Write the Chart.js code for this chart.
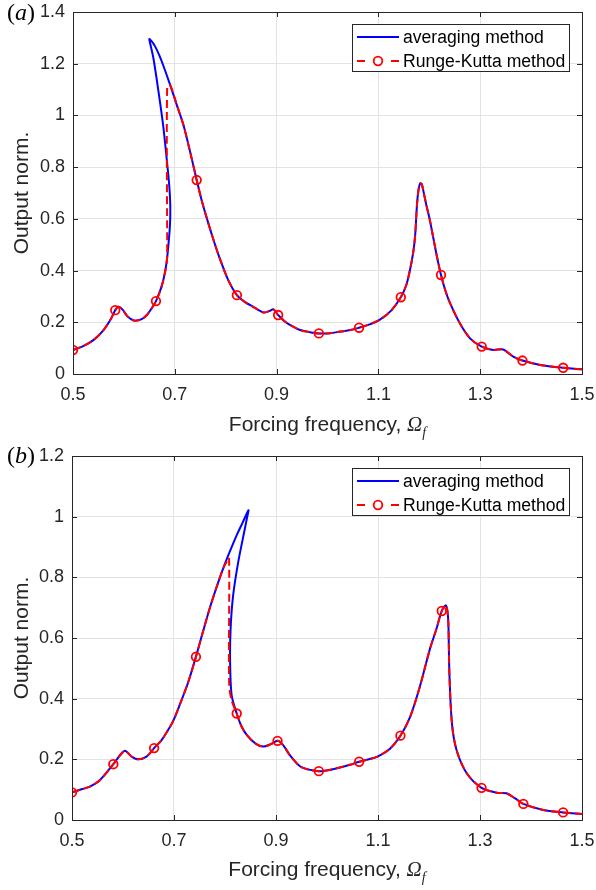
<!DOCTYPE html>
<html>
<head>
<meta charset="utf-8">
<title>Output norm vs forcing frequency</title>
<script src="https://cdn.jsdelivr.net/npm/chart.js@4.4.0/dist/chart.umd.min.js"></script>
<style>
    body { margin: 0; background: #ffffff; }
    .panel { position: relative; width: 596px; height: 445px; overflow: hidden; }
    .panel canvas { position: absolute; left: 0; top: 0; }
    .tag { position: absolute; left: 7px; font: 24px 'Liberation Serif', serif; line-height: 24px; color: #000; }
    .xlab { position: absolute; top: 413px; text-align: center; color: #262626;
            font: 21px 'Liberation Sans', Arial, sans-serif; line-height: 21px; white-space: nowrap; }
    .xlab i { font-family: 'Liberation Serif', serif; }
    .xlab sub { font-size: 14px; vertical-align: -6px; line-height: 0; }
</style>
</head>
<body>

<div class="panel">
    <canvas id="chartA" width="596" height="445"></canvas>
    <div class="tag" style="top:0px">(<i>a</i>)</div>
    <div class="xlab" style="left:73px;width:509px">Forcing frequency, <i>Ω</i><sub><i>f</i></sub></div>
</div>
<div class="panel">
    <canvas id="chartB" width="596" height="445"></canvas>
    <div class="tag" style="top:-2px">(<i>b</i>)</div>
    <div class="xlab" style="left:72px;width:510px">Forcing frequency, <i>Ω</i><sub><i>f</i></sub></div>
</div>

<script>
// Frequency response: averaging method vs Runge-Kutta, panels (a) and (b)

const seriesNames = ['averaging method', 'Runge-Kutta method'];
const xTicks = [0.5, 0.7, 0.9, 1.1, 1.3, 1.5];
const yTicksA = [0, 0.2, 0.4, 0.6, 0.8, 1, 1.2, 1.4];
const yTicksB = [0, 0.2, 0.4, 0.6, 0.8, 1, 1.2];

// ---- panel (a) ----
const xAvgA = [0.500, 0.520, 0.540, 0.560, 0.575, 0.583, 0.589, 0.597, 0.605, 0.614, 0.622, 0.635, 0.645, 0.655, 0.663,
    0.674, 0.681, 0.685, 0.688, 0.690, 0.691, 0.691, 0.689, 0.684, 0.677, 0.668, 0.658, 0.652, 0.650, 0.654, 0.661,
    0.669, 0.677, 0.691, 0.704, 0.717, 0.730, 0.743, 0.753, 0.763, 0.775, 0.786, 0.805, 0.822, 0.838, 0.854, 0.874,
    0.885, 0.894, 0.903, 0.915, 0.926, 0.946, 0.965, 0.983, 1.005, 1.025, 1.045, 1.062, 1.083, 1.103, 1.125, 1.144,
    1.155, 1.162, 1.168, 1.172, 1.176, 1.179, 1.182, 1.185, 1.188, 1.194, 1.201, 1.208, 1.215, 1.223, 1.232, 1.241,
    1.260, 1.280, 1.303, 1.326, 1.345, 1.365, 1.383, 1.418, 1.463, 1.500];
const yAvgA = [0.093, 0.108, 0.131, 0.170, 0.215, 0.247, 0.260, 0.250, 0.228, 0.212, 0.206, 0.212, 0.228, 0.255, 0.282,
    0.338, 0.396, 0.450, 0.512, 0.560, 0.602, 0.660, 0.731, 0.834, 0.963, 1.092, 1.221, 1.275, 1.295, 1.288, 1.268,
    1.235, 1.195, 1.117, 1.040, 0.963, 0.860, 0.750, 0.670, 0.602, 0.525, 0.460, 0.363, 0.305, 0.278, 0.260, 0.238,
    0.243, 0.250, 0.228, 0.205, 0.190, 0.170, 0.162, 0.157, 0.158, 0.164, 0.170, 0.179, 0.192, 0.210, 0.245, 0.297,
    0.345, 0.402, 0.465, 0.531, 0.660, 0.715, 0.737, 0.735, 0.711, 0.655, 0.596, 0.525, 0.454, 0.383, 0.320, 0.273,
    0.196, 0.138, 0.106, 0.093, 0.095, 0.067, 0.052, 0.035, 0.024, 0.018];

const xRkA = [0.500, 0.520, 0.540, 0.560, 0.575, 0.583, 0.589, 0.597, 0.605, 0.614, 0.622, 0.635, 0.645, 0.655, 0.663,
    0.674, 0.681, 0.684, 0.685, 0.685, 0.691, 0.704, 0.717, 0.730, 0.743, 0.753, 0.763, 0.775, 0.786, 0.805, 0.822,
    0.838, 0.854, 0.874, 0.885, 0.894, 0.903, 0.915, 0.926, 0.946, 0.965, 0.983, 1.005, 1.025, 1.045, 1.062, 1.083,
    1.103, 1.125, 1.144, 1.155, 1.162, 1.168, 1.172, 1.176, 1.179, 1.182, 1.185, 1.188, 1.194, 1.201, 1.208, 1.215,
    1.223, 1.232, 1.241, 1.260, 1.280, 1.303, 1.326, 1.345, 1.365, 1.383, 1.418, 1.463, 1.500];
const yRkA = [0.093, 0.108, 0.131, 0.170, 0.215, 0.247, 0.260, 0.250, 0.228, 0.212, 0.206, 0.212, 0.228, 0.255, 0.282,
    0.338, 0.396, 0.430, 0.460, 1.111, 1.117, 1.040, 0.963, 0.860, 0.750, 0.670, 0.602, 0.525, 0.460, 0.363, 0.305,
    0.278, 0.260, 0.238, 0.243, 0.250, 0.228, 0.205, 0.190, 0.170, 0.162, 0.157, 0.158, 0.164, 0.170, 0.179, 0.192,
    0.210, 0.245, 0.297, 0.345, 0.402, 0.465, 0.531, 0.660, 0.715, 0.737, 0.735, 0.711, 0.655, 0.596, 0.525, 0.454,
    0.383, 0.320, 0.273, 0.196, 0.138, 0.106, 0.093, 0.095, 0.067, 0.052, 0.035, 0.024, 0.018];

const xMarkA = [0.500, 0.583, 0.663, 0.743, 0.822, 0.903, 0.983, 1.062, 1.144, 1.223, 1.303, 1.383, 1.463];
const yMarkA = [0.093, 0.247, 0.282, 0.750, 0.305, 0.228, 0.157, 0.179, 0.297, 0.383, 0.106, 0.052, 0.024];

// ---- panel (b) ----
const xAvgB = [0.500, 0.520, 0.535, 0.555, 0.581, 0.595, 0.604, 0.617, 0.630, 0.646, 0.661, 0.675, 0.686, 0.698,
    0.712, 0.728, 0.743, 0.757, 0.771, 0.784, 0.797, 0.810, 0.823, 0.835, 0.846, 0.843, 0.839, 0.826, 0.816, 0.811,
    0.810, 0.813, 0.823, 0.832, 0.843, 0.860, 0.875, 0.890, 0.903, 0.914, 0.927, 0.947, 0.965, 0.984, 1.005, 1.025,
    1.045, 1.063, 1.082, 1.099, 1.124, 1.144, 1.163, 1.182, 1.202, 1.215, 1.225, 1.233, 1.236, 1.238, 1.240, 1.245,
    1.254, 1.274, 1.303, 1.333, 1.352, 1.369, 1.385, 1.424, 1.463, 1.500];
const yAvgB = [0.091, 0.102, 0.110, 0.132, 0.184, 0.215, 0.228, 0.209, 0.200, 0.209, 0.237, 0.262, 0.290, 0.325,
    0.383, 0.455, 0.538, 0.622, 0.703, 0.770, 0.832, 0.887, 0.939, 0.982, 1.021, 0.995, 0.961, 0.851, 0.741, 0.631,
    0.521, 0.412, 0.351, 0.310, 0.280, 0.252, 0.242, 0.250, 0.261, 0.247, 0.214, 0.177, 0.166, 0.161, 0.165, 0.173,
    0.182, 0.192, 0.200, 0.209, 0.236, 0.278, 0.340, 0.439, 0.565, 0.632, 0.689, 0.708, 0.690, 0.648, 0.483, 0.318,
    0.231, 0.154, 0.106, 0.090, 0.088, 0.071, 0.053, 0.033, 0.025, 0.020];

const xRkB = [0.500, 0.520, 0.535, 0.555, 0.581, 0.595, 0.604, 0.617, 0.630, 0.646, 0.661, 0.675, 0.686, 0.698,
    0.712, 0.728, 0.743, 0.757, 0.771, 0.784, 0.797, 0.804, 0.808, 0.808, 0.812, 0.823, 0.832, 0.843, 0.860, 0.875,
    0.890, 0.903, 0.914, 0.927, 0.947, 0.965, 0.984, 1.005, 1.025, 1.045, 1.063, 1.082, 1.099, 1.124, 1.144, 1.163,
    1.182, 1.202, 1.215, 1.225, 1.233, 1.236, 1.238, 1.240, 1.245, 1.254, 1.274, 1.303, 1.333, 1.352, 1.369, 1.385,
    1.424, 1.463, 1.500];
const yRkB = [0.091, 0.102, 0.110, 0.132, 0.184, 0.215, 0.228, 0.209, 0.200, 0.209, 0.237, 0.262, 0.290, 0.325,
    0.383, 0.455, 0.538, 0.622, 0.703, 0.770, 0.832, 0.853, 0.864, 0.460, 0.400, 0.351, 0.310, 0.280, 0.252, 0.242,
    0.250, 0.261, 0.247, 0.214, 0.177, 0.166, 0.161, 0.165, 0.173, 0.182, 0.192, 0.200, 0.209, 0.236, 0.278, 0.340,
    0.439, 0.565, 0.632, 0.689, 0.708, 0.690, 0.648, 0.483, 0.318, 0.231, 0.154, 0.106, 0.090, 0.088, 0.071, 0.053,
    0.033, 0.025, 0.020];

const xMarkB = [0.500, 0.581, 0.661, 0.743, 0.823, 0.903, 0.984, 1.063, 1.144, 1.225, 1.303, 1.385, 1.463];
const yMarkB = [0.091, 0.184, 0.237, 0.538, 0.351, 0.261, 0.161, 0.192, 0.278, 0.689, 0.106, 0.053, 0.025];

const FONT = "'Liberation Sans', Arial, Helvetica, sans-serif";
const AXIS_COLOR = '#262626';

function toPoints(xs, ys) {
    return xs.map((x, i) => ({ x: x, y: ys[i] }));
}

function fmtTick(v) {
    return String(Math.round(v * 10) / 10);
}

/**
 * MATLAB style box with inward ticks on all four sides
 */
const boxPlugin = {
    id: 'boxPlugin',
    afterDatasetsDraw(chart) {
        const { ctx, chartArea: a } = chart;
        const sx = chart.scales.x, sy = chart.scales.y;
        const len = 5;
        ctx.save();
        ctx.strokeStyle = AXIS_COLOR;
        ctx.lineWidth = 1;
        ctx.strokeRect(a.left + 0.5, a.top + 0.5, a.right - a.left, a.bottom - a.top);
        ctx.beginPath();
        sx.ticks.forEach(t => {
            const px = Math.round(sx.getPixelForValue(t.value)) + 0.5;
            ctx.moveTo(px, a.bottom); ctx.lineTo(px, a.bottom - len);
            ctx.moveTo(px, a.top); ctx.lineTo(px, a.top + len);
        });
        sy.ticks.forEach(t => {
            const py = Math.round(sy.getPixelForValue(t.value)) + 0.5;
            ctx.moveTo(a.left, py); ctx.lineTo(a.left + len, py);
            ctx.moveTo(a.right, py); ctx.lineTo(a.right - len, py);
        });
        ctx.stroke();
        ctx.restore();
    }
};

/**
 * Legend box in the top right corner (line + marker samples)
 */
const legendPlugin = {
    id: 'matlabLegend',
    afterDraw(chart) {
        const { ctx, chartArea: a } = chart;
        const x1 = a.right - 13, x0 = x1 - 217;
        const y0 = a.top + 12, h = 47;
        const rows = [y0 + 13, y0 + 37];
        ctx.save();
        ctx.fillStyle = '#ffffff';
        ctx.fillRect(x0, y0, x1 - x0, h);
        ctx.strokeStyle = AXIS_COLOR;
        ctx.lineWidth = 1;
        ctx.strokeRect(x0 + 0.5, y0 + 0.5, x1 - x0, h);

        // averaging method sample
        ctx.strokeStyle = '#0000ff';
        ctx.lineWidth = 2;
        ctx.beginPath();
        ctx.moveTo(x0 + 5, rows[0]); ctx.lineTo(x0 + 47, rows[0]);
        ctx.stroke();

        // Runge-Kutta sample: dash, circle, dash
        ctx.strokeStyle = '#ff0000';
        ctx.beginPath();
        ctx.moveTo(x0 + 5, rows[1]); ctx.lineTo(x0 + 13, rows[1]);
        ctx.moveTo(x0 + 39, rows[1]); ctx.lineTo(x0 + 47, rows[1]);
        ctx.stroke();
        ctx.lineWidth = 1.8;
        ctx.beginPath();
        ctx.arc(x0 + 26, rows[1], 4.3, 0, Math.PI * 2);
        ctx.stroke();

        ctx.fillStyle = '#000000';
        ctx.font = '17.6px ' + FONT;
        ctx.textBaseline = 'middle';
        ctx.textAlign = 'left';
        ctx.fillText(seriesNames[0], x0 + 51, rows[0] + 1);
        ctx.fillText(seriesNames[1], x0 + 51, rows[1] + 1);
        ctx.restore();
    }
};

/**
 * Build one panel
 */
function makePanel(canvasId, series, yTicks, frame) {
    const ctx = document.getElementById(canvasId);
    if (!ctx) return null;

    const data = {
        datasets: [{
            label: seriesNames[0],
            data: toPoints(series.xAvg, series.yAvg),
            showLine: true,
            borderColor: '#0000ff',
            borderWidth: 2,
            pointRadius: 0,
            tension: 0.3,
            order: 3
        }, {
            label: seriesNames[1],
            data: toPoints(series.xRk, series.yRk),
            showLine: true,
            borderColor: '#ff0000',
            borderWidth: 2,
            borderDash: [8, 4],
            pointRadius: 0,
            tension: 0.3,
            order: 2
        }, {
            label: seriesNames[1] + ' markers',
            data: toPoints(series.xMark, series.yMark),
            showLine: false,
            pointStyle: 'circle',
            pointRadius: 4.3,
            borderColor: '#ff0000',
            borderWidth: 1.8,
            backgroundColor: 'rgba(0,0,0,0)',
            order: 1
        }]
    };

    const options = {
        responsive: false,
        animation: false,
        devicePixelRatio: 1,
        layout: { padding: { left: 0, right: 14, top: frame.top, bottom: 0 } },
        plugins: {
            legend: { display: false },
            tooltip: { enabled: false }
        },
        scales: {
            x: {
                type: 'linear',
                min: 0.5,
                max: 1.5,
                afterBuildTicks: s => { s.ticks = xTicks.map(v => ({ value: v })); },
                afterFit: s => { s.height = frame.xAxisH; s.paddingLeft = 0; s.paddingRight = 0; },
                grid: { color: '#e3e3e3', lineWidth: 1, drawTicks: false },
                border: { display: false },
                ticks: { color: AXIS_COLOR, padding: 10, maxRotation: 0, font: { family: FONT, size: 18 }, callback: fmtTick }
            },
            y: {
                type: 'linear',
                min: 0,
                max: yTicks[yTicks.length - 1],
                afterBuildTicks: s => { s.ticks = yTicks.map(v => ({ value: v })); },
                afterFit: s => { s.width = frame.yAxisW; s.paddingTop = 0; s.paddingBottom = 0; },
                grid: { color: '#e3e3e3', lineWidth: 1, drawTicks: false },
                border: { display: false },
                ticks: { color: AXIS_COLOR, padding: 8, font: { family: FONT, size: 18 }, callback: fmtTick },
                title: {
                    display: true,
                    text: 'Output norm.',
                    color: AXIS_COLOR,
                    font: { family: FONT, size: 21 },
                    padding: { top: 10, bottom: 0 }
                }
            }
        }
    };

    return new Chart(ctx, {
        type: 'scatter',
        data: data,
        options: options,
        plugins: [boxPlugin, legendPlugin]
    });
}

window.charts = {};
window.charts.a = makePanel('chartA',
    { xAvg: xAvgA, yAvg: yAvgA, xRk: xRkA, yRk: yRkA, xMark: xMarkA, yMark: yMarkA },
    yTicksA, { top: 12, xAxisH: 71, yAxisW: 73 });
window.charts.b = makePanel('chartB',
    { xAvg: xAvgB, yAvg: yAvgB, xRk: xRkB, yRk: yRkB, xMark: xMarkB, yMark: yMarkB },
    yTicksB, { top: 11, xAxisH: 70, yAxisW: 72 });
</script>
</body>
</html>
